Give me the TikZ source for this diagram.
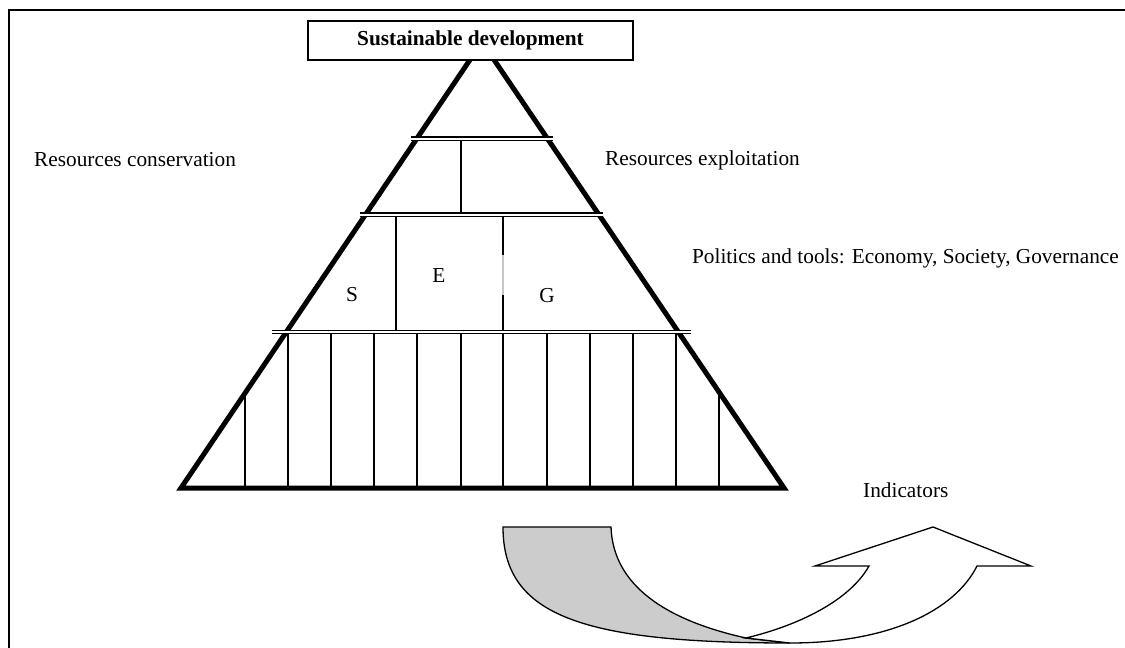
\documentclass[tikz,border=0pt]{standalone}
\usepackage{fontspec}
\setmainfont{Liberation Serif}
\begin{document}
\begin{tikzpicture}[x=1pt,y=-1pt,
  thinline/.style={line width=1.3pt},
  edgeline/.style={line width=5pt, line join=miter},
  dblline/.style={line width=1.1pt, double, double distance=2pt},
  lbl/.style={font=\fontsize{21.3}{25}\selectfont, inner sep=0pt},
]
\useasboundingbox (0,0) rectangle (1125,648);
% frame
\draw[line width=2pt] (9,670) -- (9,10) -- (1150,10);
% triangle corners
\coordinate (A) at (482,42);
\coordinate (L) at (181,488);
\coordinate (R) at (784,488);
% hatching
\foreach \x in {288,331,374,417,461,503,547,590,633,676}
  \draw[thinline] (\x,333) -- (\x,488);
\draw[thinline] (245,393) -- (245,488);
\draw[thinline] (719,392) -- (719,488);
% middle band verticals
\draw[thinline] (396,216) -- (396,332);
\draw[thinline] (503,216) -- (503,255);
\draw[thinline, gray!45] (503,255) -- (503,295);
\draw[thinline] (503,295) -- (503,332);
% top band vertical
\draw[thinline] (461,140) -- (461,214);
% triangle
\draw[edgeline] (L) -- (A) -- (R) -- cycle;
% double lines
\draw[dblline] (411,138.5) -- (553,138.5);
\draw[dblline] (360,214.5) -- (603,214.5);
\draw[dblline] (272,332) -- (691,332);
% title box
\node[draw, fill=white, line width=1.3pt, minimum width=325pt, minimum height=39pt,
      font=\fontsize{21.3}{25}\selectfont\bfseries, inner sep=0pt] (sd) at (470.5,40.5) {Sustainable development};
% labels
\node[lbl, anchor=west] (rc) at (34,160) {Resources conservation};
\node[lbl, anchor=west] (re) at (605,160) {Resources exploitation};
\node[lbl, anchor=east] (pt) at (1119,258) {Politics and tools: Economy, Society, Governance};
\node[lbl] (s) at (352,295) {S};
\node[lbl] (e) at (439,276) {E};
\node[lbl] (g) at (547,296) {G};
\node[lbl, anchor=west] (ind) at (863,490) {Indicators};
% curved arrow
\draw[thinline, fill=gray!40] (503,527) -- (611,527)
  .. controls (613,585) and (665,620) .. (746,638) -- (790,643)
  .. controls (580,643) and (503,615) .. cycle;
\draw[thinline, fill=white] (746,638)
  .. controls (800,625) and (850,600) .. (869,566) -- (815,566) -- (933,527)
  -- (1031,566) -- (977,566)
  .. controls (955,610) and (890,643) .. (790,643) -- cycle;
\end{tikzpicture}
\end{document}
